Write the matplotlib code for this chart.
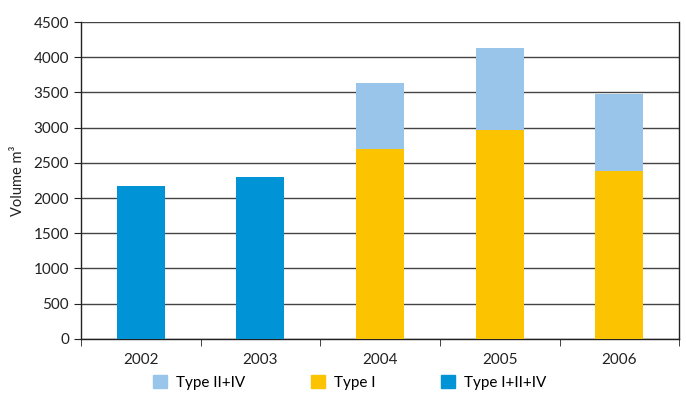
import numpy as np
import matplotlib.pyplot as plt
from matplotlib.patches import Patch

plt.rcParams['font.family'] = ['Lato', 'DejaVu Sans']

years = ['2002', '2003', '2004', '2005', '2006']
type_all = [2170, 2300, 0, 0, 0]
type_1 = [0, 0, 2700, 2970, 2380]
type_2_4 = [0, 0, 935, 1160, 1095]

c_all = '#0093D6'
c_1 = '#FCC300'
c_24 = '#99C5EA'

fig = plt.figure(figsize=(6.86, 3.94), dpi=100)
ax = fig.add_axes([0.118, 0.140, 0.872, 0.804])

x = np.arange(len(years))
w = 0.4
ax.bar(x, type_all, w, color=c_all, zorder=3)
ax.bar(x, type_1, w, color=c_1, zorder=3)
ax.bar(x, type_2_4, w, bottom=type_1, color=c_24, zorder=3)

ax.set_xlim(-0.5, len(years) - 0.5)
ax.set_ylim(0, 4500)
ax.set_yticks(range(0, 4501, 500))
ax.set_xticks(x)
ax.set_xticklabels(years)
ax.set_xticks(np.arange(-0.5, len(years), 1), minor=True)
ax.tick_params(axis='x', which='major', length=0, pad=10, labelsize=11, colors='#222222')
ax.tick_params(axis='x', which='minor', length=5, direction='out', color='#222222')
ax.tick_params(axis='y', length=5, direction='out', labelsize=11, colors='#222222')
ax.yaxis.grid(True, color='#444444', linewidth=1.0, zorder=0)

for s in ['left', 'bottom', 'right']:
    ax.spines[s].set_color('#222222')
    ax.spines[s].set_linewidth(1.0)
ax.spines['top'].set_visible(False)

ax.set_ylabel('Volume m³', fontsize=10.5, color='#222222', labelpad=6)

handles = [Patch(color=c_24, label='Type II+IV'),
           Patch(color=c_1, label='Type I'),
           Patch(color=c_all, label='Type I+II+IV')]
fig.legend(handles=handles, loc='lower center', bbox_to_anchor=(0.51, -0.025), ncol=3,
           frameon=False, fontsize=11, handlelength=0.9, handleheight=0.9,
           columnspacing=4.3, handletextpad=0.6)

fig.savefig('out.png', dpi=100)
